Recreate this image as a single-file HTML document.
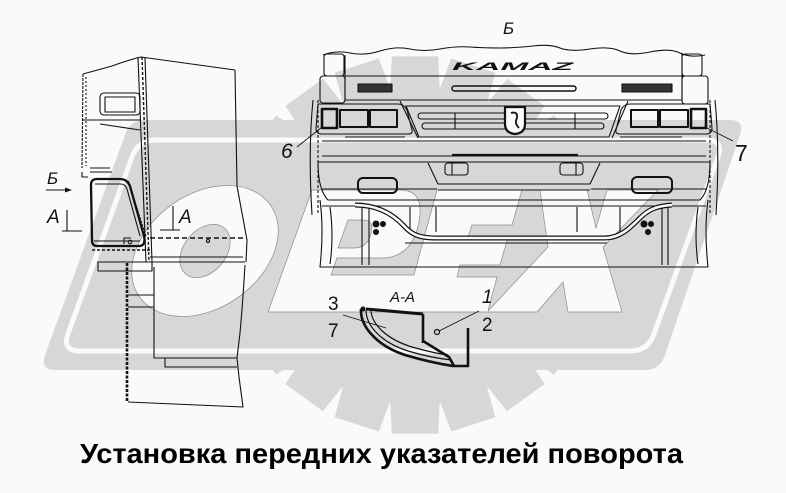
<!DOCTYPE html>
<html><head><meta charset="utf-8">
<style>html,body{margin:0;padding:0;background:#fafafa}svg{display:block}</style>
</head><body>
<svg xmlns="http://www.w3.org/2000/svg" width="786" height="493" viewBox="0 0 786 493">
<rect width="786" height="493" fill="#fafafa"/>

<!-- ===== watermark ===== -->
<g fill="#d7d7d7">
 <g transform="translate(415,245)">
  <circle r="160"/>
  <g>
   <polygon points="-24.7,-156 -23.2,-188.6 23.2,-188.6 24.7,-156"/>
   <polygon transform="rotate(18)" points="-24.7,-156 -23.2,-188.6 23.2,-188.6 24.7,-156"/>
   <polygon transform="rotate(36)" points="-24.7,-156 -23.2,-188.6 23.2,-188.6 24.7,-156"/>
   <polygon transform="rotate(54)" points="-24.7,-156 -23.2,-188.6 23.2,-188.6 24.7,-156"/>
   <polygon transform="rotate(72)" points="-24.7,-156 -23.2,-188.6 23.2,-188.6 24.7,-156"/>
   <polygon transform="rotate(90)" points="-24.7,-156 -23.2,-188.6 23.2,-188.6 24.7,-156"/>
   <polygon transform="rotate(108)" points="-24.7,-156 -23.2,-188.6 23.2,-188.6 24.7,-156"/>
   <polygon transform="rotate(126)" points="-24.7,-156 -23.2,-188.6 23.2,-188.6 24.7,-156"/>
   <polygon transform="rotate(144)" points="-24.7,-156 -23.2,-188.6 23.2,-188.6 24.7,-156"/>
   <polygon transform="rotate(162)" points="-24.7,-156 -23.2,-188.6 23.2,-188.6 24.7,-156"/>
   <polygon transform="rotate(180)" points="-24.7,-156 -23.2,-188.6 23.2,-188.6 24.7,-156"/>
   <polygon transform="rotate(198)" points="-24.7,-156 -23.2,-188.6 23.2,-188.6 24.7,-156"/>
   <polygon transform="rotate(216)" points="-24.7,-156 -23.2,-188.6 23.2,-188.6 24.7,-156"/>
   <polygon transform="rotate(234)" points="-24.7,-156 -23.2,-188.6 23.2,-188.6 24.7,-156"/>
   <polygon transform="rotate(252)" points="-24.7,-156 -23.2,-188.6 23.2,-188.6 24.7,-156"/>
   <polygon transform="rotate(270)" points="-24.7,-156 -23.2,-188.6 23.2,-188.6 24.7,-156"/>
   <polygon transform="rotate(288)" points="-24.7,-156 -23.2,-188.6 23.2,-188.6 24.7,-156"/>
   <polygon transform="rotate(306)" points="-24.7,-156 -23.2,-188.6 23.2,-188.6 24.7,-156"/>
   <polygon transform="rotate(324)" points="-24.7,-156 -23.2,-188.6 23.2,-188.6 24.7,-156"/>
   <polygon transform="rotate(342)" points="-24.7,-156 -23.2,-188.6 23.2,-188.6 24.7,-156"/>
  </g>
 </g>
 <path d="M145,120 L730,120 Q745,120 740,135 L665,355 Q660,370 645,370 L55,370 Q40,370 45,355 L125,135 Q130,120 145,120 Z"/>
</g>
<path d="M156,140 L706,140 Q724,140 718,157 L654,334 Q648,351 630,351 L80,351 Q62,351 68,334 L132,157 Q138,140 156,140 Z" fill="none" stroke="#fafafa" stroke-width="5"/>

<g fill="#fafafa" stroke="#8c8c8c" stroke-width="0.7">
 <ellipse cx="205" cy="251" rx="80" ry="57" transform="rotate(-35 205 251)"/>
 <ellipse cx="205" cy="251" rx="30" ry="21" transform="rotate(-50 205 251)" fill="#d7d7d7"/>
 <path d="M312,190 L400,190 Q425,190 419,222 Q413,255 385,258 L337,258 L331,275 L414,275 L437,190 L522,190 L512,225 L472,225 L468,237 L508,237 L500,265 L460,265 L457,277 L497,277 L488,311 L548,247 L540,190 L587,190 L596,228 L607,190 L658,190 L603,247 L622,312 L568,312 L563,282 L537,312 L268,312 Z"/>
 <path d="M348,220 L362,220 Q375,220 371,234 Q367,248 354,248 L338,248 Z" fill="#d7d7d7"/>
</g>

<!-- ===== left side view of cab ===== -->
<g fill="none" stroke="#111" stroke-width="1.1" stroke-linejoin="round">
 <path d="M83,74 L112,66 Q128,60 141,57 L235,70"/>
 <path d="M83,74 L82,168" stroke-dasharray="3,1"/>
 <path d="M86,77 L86,166" stroke-dasharray="2,2"/>
 <path d="M235,70 L237,186 L247,240 L246,262"/>
 <path d="M138,57 L146,262"/>
 <path d="M142,57 L149,262" stroke-dasharray="3,2" stroke-width="1.4"/>
 <path d="M145,58 L152,262"/>
 <rect x="100" y="93" width="40" height="22" rx="4"/>
 <rect x="105" y="97" width="30" height="15"/>
 <path d="M82,120 L140,120"/>
 <path d="M100,124 L140,130"/>
 <path d="M90,168 L110,168 M90,172 L112,172 M82,172 L82,177 L88,177"/>
 <!-- lamp -->
 <path d="M91,185 Q91,179 97,179 L120,179 Q127,179 130,186 L144,236 Q146,246 139,246 L97,246 Q92,246 92,240 Z" stroke-width="2.3"/>
 <path d="M95,184 L121,184 Q125,184 127,189 L140,236"/>
 <path d="M128,181 L146,237" stroke-dasharray="2,1.5" stroke-width="1.6"/>
 <path d="M94,241 L140,241"/>
 <path d="M124,244 L124,238 L131,238"/>
 <circle cx="130" cy="242" r="1.8"/>
 <path d="M92,250 L150,250" stroke-dasharray="3,2" stroke-width="1.5"/>
 <rect x="98" y="262" width="54" height="9"/>
 <path d="M150,257 L243,257 M150,262 L245,262"/>
 <path d="M150,238 L243,238" stroke-dasharray="5,3" stroke-width="1.6"/>
 <circle cx="208" cy="241" r="1.6"/>
 <!-- lower body -->
 <path d="M154,267 L154,358 L237,358"/>
 <path d="M165,358 L165,367 L237,367"/>
 <path d="M245,265 Q243,300 240,333 L237,358 L239,377 L243,407 L128,402"/>
 <path d="M127,263 L127,402" stroke-dasharray="3,1.5" stroke-width="2.6"/>
 <path d="M128,295 L154,295 M128,307 L154,307"/>
 <!-- section markers -->
 <path d="M67,210 L67,231 M62,231 L82,231"/>
 <path d="M173,206 L173,230 M160,230 L180,230"/>
 <path d="M46,190 L66,190"/>
</g>
<polygon points="65,187.5 72,190 65,192.5" fill="#111"/>
<g font-family="Liberation Sans, sans-serif" fill="#111" font-style="italic">
 <text x="47" y="184" font-size="17">Б</text>
 <text x="47" y="223" font-size="19">A</text>
 <text x="179" y="223" font-size="19">A</text>
</g>

<!-- ===== front view ===== -->
<g fill="none" stroke="#111" stroke-width="1.1" stroke-linejoin="round">
 <path d="M323,55 Q336,50 350,53 T380,51 T410,49 T440,49 T470,47 T500,48 T533,46 T560,48 T590,49 T620,51 T650,52 T680,53 T705,55"/>
 <rect x="324" y="54" width="20" height="22" rx="3"/>
 <rect x="320" y="76" width="25" height="27" rx="3"/>
 <rect x="682" y="54" width="20" height="22" rx="3"/>
 <rect x="682" y="76" width="26" height="28" rx="3"/>
 <path d="M345,55 L345,100 M682,53 L682,100 M345,76 L700,76 M345,100 L682,100"/>
 <rect x="452" y="86" width="124" height="5" rx="2.5" stroke-width="1.5"/>
 <rect x="358" y="84" width="34" height="8" fill="#333"/>
 <rect x="622" y="84" width="50" height="8" fill="#333"/>
 <!-- headlights -->
 <g id="hl">
  <path d="M318,104 L398,104 Q404,104 407,110 L412,130 Q413,134 408,134 L322,134 Q316,134 316,128 Z"/>
  <rect x="322" y="109" width="15" height="19" stroke-width="2.6"/>
  <rect x="340" y="110" width="28" height="17" stroke-width="2"/>
  <rect x="370" y="110" width="27" height="17" stroke-width="2"/>
 </g>
 <g transform="translate(1028,0) scale(-1,1)">
  <path d="M318,104 L398,104 Q404,104 407,110 L412,130 Q413,134 408,134 L322,134 Q316,134 316,128 Z"/>
  <rect x="322" y="109" width="15" height="19" stroke-width="2.6"/>
  <rect x="340" y="110" width="28" height="17" stroke-width="2"/>
  <rect x="370" y="110" width="27" height="17" stroke-width="2"/>
 </g>
 <!-- grille -->
 <path d="M400,101 L418,138 M628,101 L612,138"/>
 <polygon points="406,106 620,106 609,137 419,137"/>
 <rect x="418" y="113" width="190" height="6" rx="3"/>
 <rect x="422" y="123" width="182" height="6" rx="3"/>
 <path d="M455,113 L455,129 M575,113 L575,129"/>
 <path d="M505,107 L525,107 L525,124 Q525,133 515,134 Q505,133 505,124 Z" stroke-width="2.2" fill="#fafafa"/>
 <path d="M511,113 Q518,111 517,118 Q514,123 519,128" stroke-width="1.8"/>
 <path d="M345,137 L405,137 M620,137 L682,137 M322,141 L706,141"/>
 <!-- bumper -->
 <path d="M322,156 L706,156"/>
 <path d="M452,155 L578,155" stroke-width="2.2"/>
 <path d="M318,162 L710,162"/>
 <path d="M318,162 Q318,190 328,200 L700,200 Q710,190 710,162"/>
 <path d="M428,163 L438,184 L590,184 L600,163"/>
 <rect x="445" y="163" width="23" height="12" rx="3"/>
 <rect x="560" y="163" width="23" height="12" rx="3"/>
 <path d="M452,163 L452,175 M576,163 L576,175"/>
 <path d="M322,189 L437,189 M591,189 L706,189 M438,190 L590,190"/>
 <rect x="358" y="178" width="39" height="15" rx="5" stroke-width="2"/>
 <rect x="632" y="177" width="40" height="16" rx="5" stroke-width="2"/>
 <!-- lower frame -->
 <path d="M322,206 L706,206"/>
 <path d="M320,200 Q324,230 320,267 L708,267 Q704,230 708,200"/>
 <path d="M410,207 L410,232 M620,207 L620,232 M436,207 L436,232 M577,207 L577,232"/>
 <path d="M405,243 L607,243"/>
 <path d="M362,207 L362,265 M369,207 L369,265 M662,207 L662,265 M668,207 L668,265"/>
 <path d="M330,207 Q334,236 330,264 M698,207 Q694,236 698,264"/>
 <!-- sides -->
 <path d="M313,100 Q308,150 312,215"/>
 <path d="M318,100 L318,215" stroke-dasharray="3,2"/>
 <path d="M715,100 Q720,150 716,215"/>
 <path d="M710,100 L710,215" stroke-dasharray="3,2"/>
 <!-- leaders -->
 <path d="M297,147 L322,127" stroke-width="0.9"/>
 <path d="M733,141 L707,128" stroke-width="0.9"/>
</g>
<!-- tube -->
<path d="M355,205 C378,205 393,214 404,226 C412,235 420,238 436,238 L605,238 C620,238 630,228 640,218 C648,210 656,206 672,205" fill="none" stroke="#111" stroke-width="5"/>
<path d="M355,205 C378,205 393,214 404,226 C412,235 420,238 436,238 L605,238 C620,238 630,228 640,218 C648,210 656,206 672,205" fill="none" stroke="#fafafa" stroke-width="2.6"/>
<g fill="#111">
 <circle cx="376" cy="224" r="3.5"/><circle cx="383" cy="224" r="3"/><circle cx="376" cy="232" r="3"/>
 <circle cx="644" cy="224" r="3.5"/><circle cx="651" cy="224" r="3"/><circle cx="648" cy="232" r="3"/>
</g>
<text x="452" y="70" font-family="Liberation Sans, sans-serif" font-size="11" font-weight="bold" font-style="italic" fill="#111" textLength="121" lengthAdjust="spacingAndGlyphs">KAMAZ</text>
<g font-family="Liberation Sans, sans-serif" fill="#111">
 <text x="503" y="34" font-size="17" font-style="italic">Б</text>
 <text x="281" y="158" font-size="21" font-style="italic">6</text>
 <text x="735" y="161" font-size="23">7</text>
</g>

<!-- ===== section A-A ===== -->
<g fill="none" stroke="#111" stroke-linejoin="round">
 <path d="M366,309 L423,314" stroke-width="3"/>
 <path d="M361,309 C360,325 375,345 405,355 C425,361 440,364 453,366" stroke-width="2.6"/>
 <path d="M366,310 C366,325 380,342 408,351 C428,357 442,359 452,360" stroke-width="1.2"/>
 <path d="M371,311 C372,324 386,339 412,347 C430,352 440,354 448,355" stroke-width="1.2"/>
 <path d="M423,314 L423,343" stroke-width="2.6"/>
 <path d="M423,341 L449,357 L454,366" stroke-width="2.6"/>
 <path d="M468,328 L468,366 L452,366" stroke-width="2.6"/>
 <circle cx="437" cy="332" r="2.5" stroke-width="1.2"/>
 <path d="M343,315 L386,328" stroke-width="0.8"/>
 <path d="M479,311 L439,331" stroke-width="0.8"/>
</g>
<circle cx="363" cy="309" r="2.5" fill="#111"/>
<g font-family="Liberation Sans, sans-serif" fill="#111">
 <text x="390" y="302" font-size="15" font-style="italic">A-A</text>
 <text x="328" y="310" font-size="19">3</text>
 <text x="328" y="337" font-size="19">7</text>
 <text x="482" y="303" font-size="19" font-style="italic">1</text>
 <text x="482" y="331" font-size="19">2</text>
</g>

<!-- ===== caption ===== -->
<text x="80" y="463" font-family="Liberation Sans, sans-serif" font-size="28" font-weight="bold" fill="#000" textLength="603" lengthAdjust="spacingAndGlyphs">Установка передних указателей поворота</text>
</svg>
</body></html>
